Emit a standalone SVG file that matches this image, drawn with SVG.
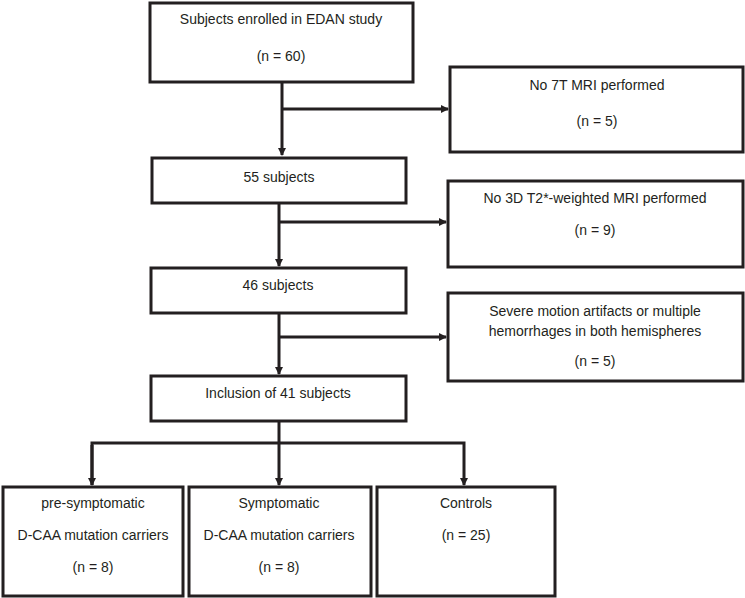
<svg xmlns="http://www.w3.org/2000/svg" width="745" height="598" viewBox="0 0 745 598">
<defs>
<marker id="arr" markerWidth="8" markerHeight="8" refX="7" refY="4" orient="auto" markerUnits="userSpaceOnUse">
<path d="M0,0 L8,4 L0,8 Z" fill="#231f20"/>
</marker>
<style>
.box{fill:#fff;stroke:#231f20;stroke-width:3}
.ln{fill:none;stroke:#231f20;stroke-width:3}
text{font-family:"Liberation Sans",Arial,sans-serif;font-size:14px;fill:#231f20;text-anchor:middle}
</style>
</defs>
<rect width="745" height="598" fill="#fff"/>
<g id="connectors">
<path class="ln" d="M282,82 V155" marker-end="url(#arr)"/>
<path class="ln" d="M282,109 H448" marker-end="url(#arr)"/>
<path class="ln" d="M279,203 V266" marker-end="url(#arr)"/>
<path class="ln" d="M279,222 H446" marker-end="url(#arr)"/>
<path class="ln" d="M279,313 V374" marker-end="url(#arr)"/>
<path class="ln" d="M279,337 H446" marker-end="url(#arr)"/>
<path class="ln" d="M279,421 V485" marker-end="url(#arr)"/>
<path class="ln" d="M92,485 V443 H464 V485" marker-end="url(#arr)"/>
<path class="ln" d="M92,445 V485" marker-end="url(#arr)"/>
</g>
<g id="enrolled">
<rect class="box" x="150" y="3" width="263" height="79"/>
<text x="281" y="24">Subjects enrolled in EDAN study</text>
<text x="281" y="61">(n = 60)</text>
</g>
<g id="no7t">
<rect class="box" x="450" y="67" width="293" height="85"/>
<text x="597" y="90">No 7T MRI performed</text>
<text x="597" y="126">(n = 5)</text>
</g>
<g id="s55">
<rect class="box" x="152" y="158" width="254" height="45"/>
<text x="279" y="182">55 subjects</text>
</g>
<g id="no3d">
<rect class="box" x="448" y="181" width="295" height="86"/>
<text x="595" y="203">No 3D T2*-weighted MRI performed</text>
<text x="595" y="235">(n = 9)</text>
</g>
<g id="s46">
<rect class="box" x="151" y="268" width="255" height="45"/>
<text x="278" y="290">46 subjects</text>
</g>
<g id="severe">
<rect class="box" x="448" y="293" width="295" height="88"/>
<text x="595" y="316">Severe motion artifacts or multiple</text>
<text x="595" y="336">hemorrhages in both hemispheres</text>
<text x="595" y="366">(n = 5)</text>
</g>
<g id="inclusion">
<rect class="box" x="151" y="376" width="255" height="45"/>
<text x="278" y="398">Inclusion of 41 subjects</text>
</g>
<g id="presym">
<rect class="box" x="3" y="487" width="180" height="109"/>
<text x="93" y="508">pre-symptomatic</text>
<text x="93" y="540">D-CAA mutation carriers</text>
<text x="93" y="572">(n = 8)</text>
</g>
<g id="sym">
<rect class="box" x="189" y="487" width="182" height="109"/>
<text x="279" y="508">Symptomatic</text>
<text x="279" y="540">D-CAA mutation carriers</text>
<text x="279" y="572">(n = 8)</text>
</g>
<g id="controls">
<rect class="box" x="377" y="487" width="178" height="109"/>
<text x="466" y="508">Controls</text>
<text x="466" y="540">(n = 25)</text>
</g>
</svg>
